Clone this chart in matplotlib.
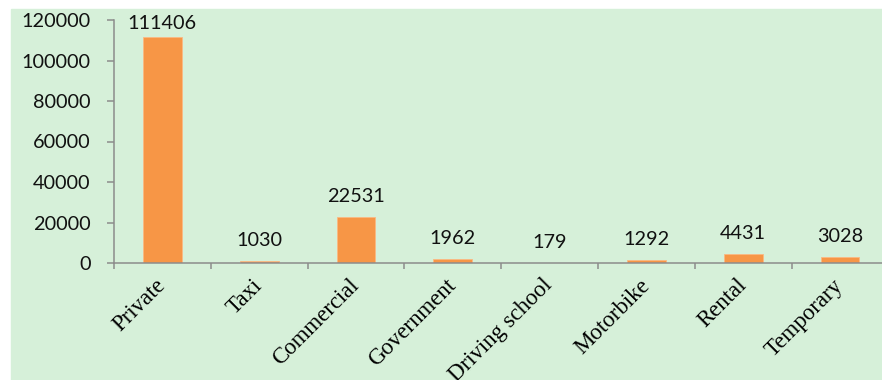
import matplotlib
matplotlib.use('Agg')
import matplotlib.pyplot as plt
from matplotlib.patches import Rectangle

# Data
categories = ['Private', 'Taxi', 'Commercial', 'Government', 'Driving school',
              'Motorbike', 'Rental', 'Temporary']
counts = [111406, 1030, 22531, 1962, 179, 1292, 4431, 3028]
y_ticks = [0, 20000, 40000, 60000, 80000, 100000, 120000]

BAR_COLOR = '#f79646'
BG_COLOR = '#d6f0d9'
AXIS_COLOR = '#8c8c8c'


def create_chart():
    W, H = 882, 380
    fig = plt.figure(figsize=(W / 100, H / 100), dpi=100)
    fig.patch.set_facecolor('white')

    # light green chart area (white strip on the top and left edge)
    fig.patches.append(Rectangle((11 / W, 0), 1 - 11 / W, (H - 9) / H,
                                 transform=fig.transFigure, color=BG_COLOR,
                                 zorder=-10))

    # plot area runs past the right edge, as in the reference
    ax = fig.add_axes([114 / W, (H - 263) / H, 774.4 / W, 243 / H])
    ax.set_facecolor('none')

    x = range(len(categories))
    ax.bar(x, counts, width=0.4, color=BAR_COLOR, edgecolor='#fbb983',
           linewidth=0.6, zorder=2)

    ax.set_xlim(-0.5, len(categories) - 0.5)
    ax.set_ylim(0, 120000)
    ax.set_yticks(y_ticks)
    ax.set_yticklabels([str(t) for t in y_ticks], fontfamily='Lato',
                       fontsize=14.3, color='#111111')

    # category ticks sit between the bars
    ax.set_xticks([i - 0.5 for i in range(len(categories) + 1)])
    ax.set_xticklabels([])
    ax.set_xticks(list(x), minor=True)
    ax.set_xticklabels(categories, minor=True, rotation=45, ha='right',
                       va='center', rotation_mode='anchor',
                       fontfamily='Liberation Serif', fontsize=16.5)
    ax.tick_params(axis='x', which='minor', length=0, pad=14)
    ax.tick_params(axis='x', which='major', length=4.3, width=1.1,
                   color=AXIS_COLOR, direction='out')
    ax.tick_params(axis='y', length=5, width=1.1, color=AXIS_COLOR, pad=12)

    for side in ['top', 'right']:
        ax.spines[side].set_visible(False)
    for side in ['left', 'bottom']:
        ax.spines[side].set_color(AXIS_COLOR)
        ax.spines[side].set_linewidth(1.1)

    # value labels; the tallest one is pushed down to stay inside the plot
    label_cap = 108000
    for i, v in enumerate(counts):
        ax.annotate(f'{v}', xy=(i, min(v, label_cap)), xytext=(0, 10.8),
                    textcoords='offset points', ha='center', va='baseline',
                    fontfamily='Lato', fontsize=14.3, color='#111111',
                    annotation_clip=False)

    fig.savefig('out.png', dpi=100)
    plt.close(fig)


if __name__ == '__main__':
    create_chart()
